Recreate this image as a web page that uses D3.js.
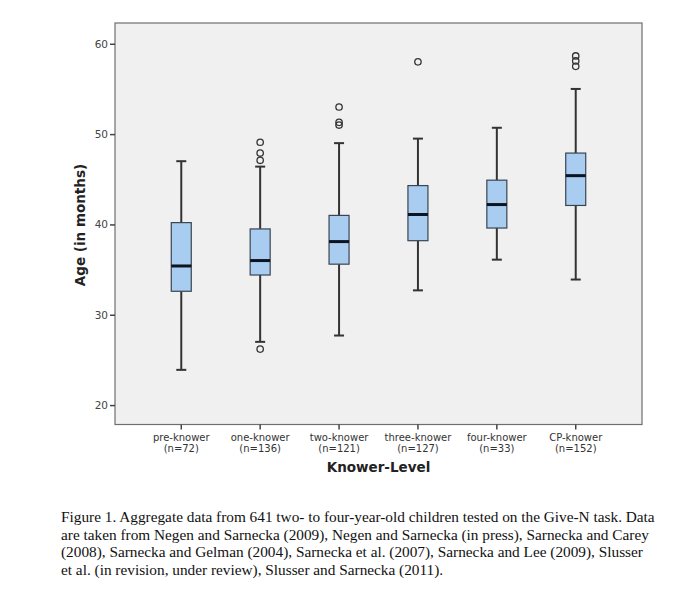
<!DOCTYPE html>
<html>
<head>
<meta charset="utf-8">
<script src="https://cdn.jsdelivr.net/npm/d3@7"></script>
<style>
  body { margin: 0; background: #fff; }
  svg { display: block; }
</style>
</head>
<body>
<svg id="chart" width="680" height="600"></svg>
<script>
const categories = ["pre-knower", "one-knower", "two-knower", "three-knower", "four-knower", "CP-knower"];
const counts = [72, 136, 121, 127, 33, 152];
const whiskerLow = [23.9, 27.0, 27.7, 32.7, 36.1, 33.9];
const q1 = [32.6, 34.4, 35.6, 38.2, 39.6, 42.1];
const median = [35.4, 36.0, 38.1, 41.1, 42.2, 45.4];
const q3 = [40.2, 39.5, 41.0, 44.3, 44.9, 47.9];
const whiskerHigh = [47.0, 46.4, 49.0, 49.5, 50.7, 55.0];
const outliers = [[], [49.1, 47.9, 47.1, 26.2], [53.0, 51.3, 51.0], [58.0], [], [58.65, 58.1, 57.5]];
const yTicks = [20, 30, 40, 50, 60];
const yTitle = "Age (in months)";
const xTitle = "Knower-Level";
const captionLines = [
  "Figure 1. Aggregate data from 641 two- to four-year-old children tested on the Give-N task. Data",
  "are taken from Negen and Sarnecka (2009), Negen and Sarnecka (in press), Sarnecka and Carey",
  "(2008), Sarnecka and Gelman (2004), Sarnecka et al. (2007), Sarnecka and Lee (2009), Slusser",
  "et al. (in revision, under review), Slusser and Sarnecka (2011)."
];

const svg = d3.select("#chart");
const plot = { left: 115, right: 642, top: 23, bottom: 424.5 };

const y = d3.scaleLinear().domain([17.85, 62.3]).range([plot.bottom, plot.top]);
const x = d3.scaleBand().domain(categories).range([plot.left, plot.right]).paddingOuter(0.34).paddingInner(0);

// plot background
svg.append("rect")
  .attr("x", plot.left).attr("y", plot.top)
  .attr("width", plot.right - plot.left).attr("height", plot.bottom - plot.top)
  .attr("fill", "#f0f0f0").attr("stroke", "#6e6e6e").attr("stroke-width", 1.2);

const data = categories.map((c, i) => ({
  c, n: counts[i], lo: whiskerLow[i], q1: q1[i], med: median[i], q3: q3[i], hi: whiskerHigh[i], out: outliers[i]
}));

const boxW = 20, capW = 10;
const g = svg.append("g");
const grp = g.selectAll("g.box").data(data).join("g")
  .attr("transform", d => `translate(${x(d.c) + x.bandwidth() / 2},0)`);

// whiskers
grp.append("line").attr("x1", 0).attr("x2", 0)
  .attr("y1", d => y(d.hi)).attr("y2", d => y(d.q3))
  .attr("stroke", "#333").attr("stroke-width", 2);
grp.append("line").attr("x1", 0).attr("x2", 0)
  .attr("y1", d => y(d.q1)).attr("y2", d => y(d.lo))
  .attr("stroke", "#333").attr("stroke-width", 2);
grp.append("line").attr("x1", -capW / 2).attr("x2", capW / 2)
  .attr("y1", d => y(d.hi)).attr("y2", d => y(d.hi))
  .attr("stroke", "#333").attr("stroke-width", 2);
grp.append("line").attr("x1", -capW / 2).attr("x2", capW / 2)
  .attr("y1", d => y(d.lo)).attr("y2", d => y(d.lo))
  .attr("stroke", "#333").attr("stroke-width", 2);

// box
grp.append("rect")
  .attr("x", -boxW / 2).attr("width", boxW)
  .attr("y", d => y(d.q3)).attr("height", d => y(d.q1) - y(d.q3))
  .attr("fill", "#a8cdf0").attr("stroke", "#3a4450").attr("stroke-width", 1.2);

// median
grp.append("line").attr("x1", -boxW / 2).attr("x2", boxW / 2)
  .attr("y1", d => y(d.med)).attr("y2", d => y(d.med))
  .attr("stroke", "#0b1420").attr("stroke-width", 3);

// outliers
grp.selectAll("circle").data(d => d.out).join("circle")
  .attr("cx", 0).attr("cy", v => y(v)).attr("r", 3.2)
  .attr("fill", "none").attr("stroke", "#333").attr("stroke-width", 1.3);

// y axis
const yAxis = svg.append("g").attr("transform", `translate(${plot.left},0)`)
  .call(d3.axisLeft(y).tickValues(yTicks).tickSize(5).tickPadding(2).tickFormat(d3.format("d")));
yAxis.select(".domain").remove();
yAxis.selectAll(".tick line").attr("stroke", "#444").attr("stroke-width", 1.5);
yAxis.selectAll(".tick text").attr("fill", "#444").attr("font-family", "DejaVu Sans, sans-serif").attr("font-size", 10.5);

// x axis
const xAxis = svg.append("g").attr("transform", `translate(0,${plot.bottom})`)
  .call(d3.axisBottom(x).tickSize(5).tickFormat(""));
xAxis.select(".domain").remove();
xAxis.selectAll(".tick line").attr("stroke", "#444").attr("stroke-width", 1.5);
xAxis.selectAll(".tick").each(function (c, i) {
  const t = d3.select(this).append("text")
    .attr("fill", "#333").attr("font-family", "DejaVu Sans, sans-serif").attr("font-size", 10)
    .attr("text-anchor", "middle");
  t.append("tspan").attr("x", 0).attr("y", 16.5).text(c);
  t.append("tspan").attr("x", 0).attr("y", 27).text(`(n=${counts[i]})`);
});

// axis titles
svg.append("text")
  .attr("x", (plot.left + plot.right) / 2).attr("y", 472)
  .attr("text-anchor", "middle")
  .attr("font-family", "DejaVu Sans, sans-serif").attr("font-weight", "bold").attr("font-size", 13.5)
  .attr("fill", "#222").text(xTitle);

svg.append("text")
  .attr("transform", `translate(85,225) rotate(-90)`)
  .attr("text-anchor", "middle")
  .attr("font-family", "DejaVu Sans, sans-serif").attr("font-weight", "bold").attr("font-size", 13.5)
  .attr("fill", "#222").text(yTitle);

// caption
svg.append("g").selectAll("text").data(captionLines).join("text")
  .attr("x", 61).attr("y", (d, i) => 522 + i * 17.7)
  .attr("font-family", "Liberation Serif, Times New Roman, serif").attr("font-size", 15.3)
  .attr("fill", "#111").text(d => d);
</script>
</body>
</html>
